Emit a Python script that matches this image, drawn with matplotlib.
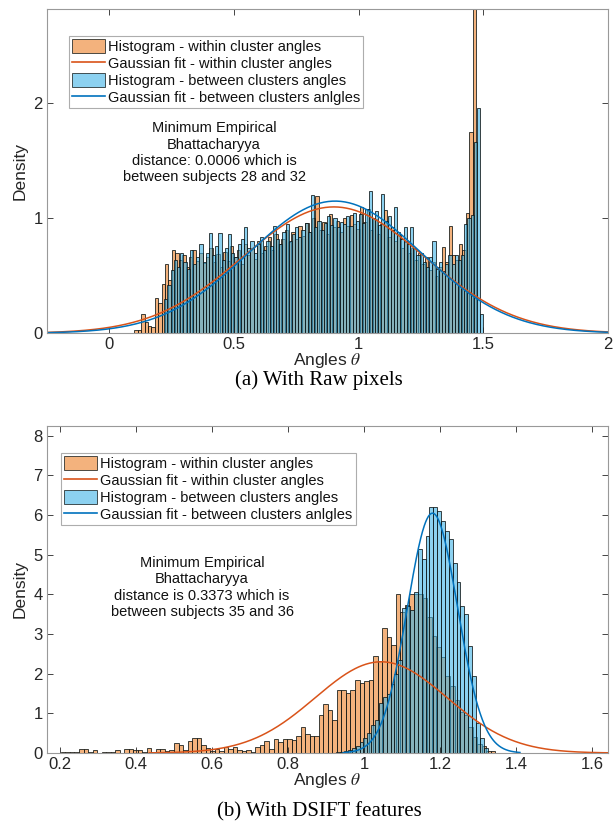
import numpy as np
import matplotlib
matplotlib.use("Agg")
import matplotlib.pyplot as plt
from matplotlib.patches import Patch
from matplotlib.lines import Line2D

plt.rcParams['font.family'] = ['Liberation Sans', 'DejaVu Sans']
plt.rcParams['mathtext.fontset'] = 'stix'

# ---- (a) raw pixels ----
raw_within_start, raw_within_width = 0.10, 0.0137
raw_within = [
    0.03, 0.03, 0.17, 0.10, 0.06, 0.05, 0.31, 0.26, 0.43, 0.60,
    0.46, 0.72, 0.70, 0.64, 0.68, 0.58, 0.66, 0.72, 0.63, 0.70,
    0.61, 0.66, 0.74, 0.62, 0.69, 0.58, 0.71, 0.63, 0.76, 0.66,
    0.72, 0.60, 0.78, 0.68, 0.74, 0.65, 0.80, 0.70, 0.76, 0.84,
    0.72, 0.86, 0.78, 0.82, 0.90, 0.79, 0.88, 0.82, 0.93, 0.85,
    0.96, 0.88, 1.00, 1.19, 0.90, 0.97, 0.86, 1.04, 0.92, 0.98,
    0.88, 1.00, 0.93, 1.03, 0.95, 0.91, 1.10, 0.97, 1.08, 0.90,
    0.99, 0.86, 0.95, 1.07, 0.84, 0.92, 0.80, 0.86, 0.74, 0.79,
    0.70, 0.74, 0.64, 0.70, 0.60, 0.66, 0.55, 0.62, 0.50, 0.58,
    0.75, 0.62, 0.93, 0.68, 0.64, 0.78, 0.72, 1.05, 1.75, 2.95,
]
raw_between_start, raw_between_width = 0.22, 0.0128
raw_between = [
    0.30, 0.42, 0.55, 0.64, 0.58, 0.70, 0.62, 0.56, 0.72, 0.60,
    0.66, 0.78, 0.62, 0.70, 0.87, 0.68, 0.76, 0.87, 0.64, 0.74,
    0.86, 0.70, 0.66, 0.78, 0.82, 0.92, 0.74, 0.80, 0.70, 0.78,
    0.84, 0.72, 0.80, 0.76, 0.93, 0.82, 0.78, 0.88, 0.95, 0.80,
    0.86, 0.92, 0.84, 0.90, 0.96, 0.88, 1.20, 0.92, 0.98, 0.90,
    0.96, 1.02, 0.94, 1.00, 0.92, 0.97, 0.95, 1.02, 0.93, 1.05,
    0.98, 1.04, 0.96, 1.08, 1.24, 1.00, 1.06, 0.94, 1.21, 0.98,
    1.02, 0.90, 1.10, 0.88, 0.82, 0.92, 0.78, 0.92, 0.74, 0.68,
    0.70, 0.62, 0.58, 0.66, 0.80, 0.56, 0.62, 0.54, 0.60, 0.68,
    0.60, 0.68, 0.64, 0.68, 0.95, 1.00, 1.03, 1.66, 1.96, 0.17,
]
raw_fit_within = (0.900, 0.363)   # mean, std
raw_fit_between = (0.905, 0.347)

# ---- (b) DSIFT ----
sift_within_start, sift_within_width = 0.155, 0.0119
sift_within = [
    0.04, 0.00, 0.00, 0.00, 0.03, 0.03, 0.03, 0.03, 0.10, 0.10,
    0.03, 0.08, 0.00, 0.03, 0.03, 0.03, 0.08, 0.00, 0.10, 0.10,
    0.07, 0.07, 0.02, 0.13, 0.02, 0.10, 0.10, 0.04, 0.07, 0.25,
    0.20, 0.08, 0.30, 0.37, 0.37, 0.20, 0.12, 0.05, 0.10, 0.05,
    0.15, 0.10, 0.15, 0.07, 0.05, 0.08, 0.03, 0.15, 0.20, 0.30,
    0.10, 0.35, 0.28, 0.36, 0.36, 0.33, 0.43, 0.66, 0.49, 0.44,
    0.44, 0.96, 1.24, 1.08, 0.83, 1.60, 1.60, 1.51, 1.60, 1.85,
    1.77, 1.81, 1.85, 2.45, 2.32, 3.14, 2.92, 2.71, 4.00, 3.56,
    3.73, 4.00, 4.00, 4.00, 3.90, 3.44, 2.94, 2.68, 2.43, 1.93,
    1.68, 1.34, 1.04, 0.96, 0.66, 0.41, 0.24, 0.18, 0.05, 0.05,
]
sift_between_start, sift_between_width = 0.927, 0.0102
sift_between = [
    0.02, 0.03, 0.05, 0.08, 0.12, 0.18, 0.29, 0.37, 0.50, 0.70,
    0.83, 1.25, 1.42, 1.50, 1.75, 2.00, 2.35, 3.65, 3.70, 3.60,
    4.07, 5.14, 4.90, 5.46, 6.20, 6.20, 6.10, 5.84, 5.60, 5.40,
    4.80, 4.30, 3.70, 3.50, 2.70, 1.93, 0.75, 0.37, 0.12,
]
sift_fit_within = (1.045, 0.1735)
sift_fit_between = (1.180, 0.066)
sift_fit_within_range = (0.435, 1.65)
sift_fit_between_range = (0.945, 1.41)

labels = ["Histogram - within cluster angles",
          "Gaussian fit - within cluster angles",
          "Histogram - between clusters angles",
          "Gaussian fit - between clusters anlgles"]

orange_face = (0.92, 0.50, 0.15, 0.6)
blue_face = (0.25, 0.70, 0.90, 0.6)
orange_line = "#D95319"
blue_line = "#0072BD"
edge = (0.05, 0.08, 0.08, 0.85)
axcol = "#262626"


def gauss(x, mu, sd):
    return np.exp(-0.5 * ((x - mu) / sd) ** 2) / (sd * np.sqrt(2 * np.pi))


def draw_hist(ax, start, width, heights, face):
    lefts = start + width * np.arange(len(heights))
    ax.bar(lefts, heights, width=width, align='edge', color=face,
           edgecolor=edge, linewidth=0.65)


def style_axes(ax):
    for s in ax.spines.values():
        s.set_color("#999999")
        s.set_linewidth(0.8)
    ax.tick_params(direction='in', top=True, right=True, length=4,
                   color=axcol, labelsize=12, labelcolor=axcol, width=0.6,
                   pad=3)
    ax.set_xlabel(r"Angles $\theta$", fontsize=12.5, color=axcol, labelpad=-1)
    ax.set_ylabel("Density", fontsize=12.5, color=axcol, labelpad=4)


def add_legend(ax, anchor):
    handles = [Patch(facecolor=orange_face, edgecolor=edge, linewidth=0.6),
               Line2D([], [], color=orange_line, lw=1.2),
               Patch(facecolor=blue_face, edgecolor=edge, linewidth=0.6),
               Line2D([], [], color=blue_line, lw=1.2)]
    leg = ax.legend(handles, labels, loc='upper left', bbox_to_anchor=anchor,
                    fontsize=10.5, frameon=True, fancybox=False,
                    edgecolor="#999999", borderpad=0.2, labelspacing=0.15,
                    handlelength=2.3, handleheight=1.1, handletextpad=0.2,
                    borderaxespad=0)
    leg.get_frame().set_linewidth(0.8)
    for t in leg.get_texts():
        t.set_color("#111111")


fig = plt.figure(figsize=(6.14, 8.33), dpi=100)

# (a)
ax1 = fig.add_axes([0.0765, 0.600, 0.914, 0.389])
draw_hist(ax1, raw_within_start, raw_within_width, raw_within, orange_face)
xs = np.linspace(-0.25, 2.0, 400)
ax1.plot(xs, gauss(xs, *raw_fit_within), color=orange_line, lw=1.1)
draw_hist(ax1, raw_between_start, raw_between_width, raw_between, blue_face)
ax1.plot(xs, gauss(xs, *raw_fit_between), color=blue_line, lw=1.1)
ax1.set_xlim(-0.25, 2.0)
ax1.set_ylim(0, 2.82)
ax1.set_xticks([0, 0.5, 1, 1.5, 2])
ax1.set_xticklabels(["0", "0.5", "1", "1.5", "2"])
ax1.set_yticks([0, 1, 2])
style_axes(ax1)
add_legend(ax1, (0.039, 0.917))
ax1.text(0.42, 1.57, "Minimum Empirical\nBhattacharyya\ndistance: 0.0006 which is\n"
         "between subjects 28 and 32", ha='center', va='center', fontsize=10.5,
         linespacing=1.2, color="#111111")

# (b)
ax2 = fig.add_axes([0.0765, 0.096, 0.914, 0.393])
draw_hist(ax2, sift_within_start, sift_within_width, sift_within, orange_face)
xw = np.linspace(*sift_fit_within_range, 400)
ax2.plot(xw, gauss(xw, *sift_fit_within), color=orange_line, lw=1.1)
draw_hist(ax2, sift_between_start, sift_between_width, sift_between, blue_face)
xb = np.linspace(*sift_fit_between_range, 400)
ax2.plot(xb, gauss(xb, *sift_fit_between), color=blue_line, lw=1.1)
ax2.set_xlim(0.166, 1.642)
ax2.set_ylim(0, 8.25)
ax2.set_xticks([0.2, 0.4, 0.6, 0.8, 1.0, 1.2, 1.4, 1.6])
ax2.set_xticklabels(["0.2", "0.4", "0.6", "0.8", "1", "1.2", "1.4", "1.6"])
ax2.set_yticks(range(0, 9))
style_axes(ax2)
add_legend(ax2, (0.025, 0.917))
ax2.text(0.574, 4.17, "Minimum Empirical\nBhattacharyya\ndistance is 0.3373 which is\n"
         "between subjects 35 and 36", ha='center', va='center', fontsize=10.5,
         linespacing=1.2, color="#111111")

fig.text(0.52, 0.544, "(a) With Raw pixels", ha='center', va='center',
         fontsize=15, family='Liberation Serif')
fig.text(0.52, 0.025, "(b) With DSIFT features", ha='center', va='center',
         fontsize=15, family='Liberation Serif')

fig.savefig("out.png", dpi=100)
